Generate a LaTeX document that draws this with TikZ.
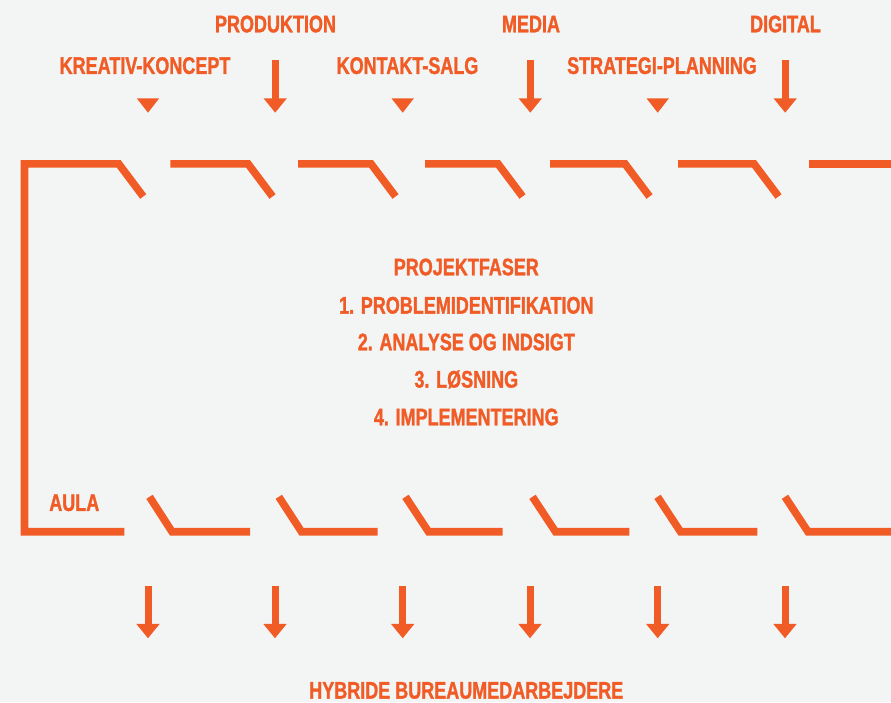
\documentclass[tikz,border=0pt]{standalone}
\usepackage{fontspec}
\setmainfont{Liberation Sans}[FakeStretch=0.75,BoldFeatures={FakeBold=1.2}]
\usepackage{xcolor}
\usetikzlibrary{arrows.meta}
\definecolor{bureauorange}{RGB}{241,91,38}
\definecolor{bggray}{RGB}{243,244,244}
\tikzset{
  label/.style={text=bureauorange,font=\fontsize{24}{24}\selectfont\bfseries,
    inner sep=0pt,text height=17.2pt,text depth=0pt},
  wall/.style={draw=bureauorange,line width=7.6pt,line join=miter},
  flow/.style={draw=bureauorange,line width=7pt,-{Triangle[width=22.4pt,length=14.4pt]}}
}

\begin{document}
\begin{tikzpicture}[x=1pt,y=-1pt]
\fill[bggray] (0,0) rectangle (891,702);
\useasboundingbox (0,0) rectangle (891,702);
% departments above
\node[label] (kreativ) at (145,65.3){KREATIV-KONCEPT};
\node[label] (produktion) at (275.5,23.7){PRODUKTION};
\node[label] (kontakt) at (407.5,65.3){KONTAKT-SALG};
\node[label] (media) at (531,23.7){MEDIA};
\node[label] (strategi) at (662,65.3){STRATEGI-PLANNING};
\node[label] (digital) at (785.5,23.7){DIGITAL};
% arrows into the room
\coordinate (P1) at (275.2,60.3);
\coordinate (P2) at (275.2,112.7);
\coordinate (M1) at (530.3,60.3);
\coordinate (M2) at (530.3,112.7);
\coordinate (D1) at (785.2,60.3);
\coordinate (D2) at (785.2,112.7);
\draw[flow] (P1) -- (P2);
\draw[flow] (M1) -- (M2);
\draw[flow] (D1) -- (D2);
\fill[bureauorange] (136.8,98.3) -- (159.2,98.3) -- (148,112.7) -- cycle;
\fill[bureauorange] (391.5,98.3) -- (413.9,98.3) -- (402.7,112.7) -- cycle;
\fill[bureauorange] (646.5,98.3) -- (668.9,98.3) -- (657.7,112.7) -- cycle;
% room walls with doors
\draw[wall] (143.2,196.5) -- (118.7,163.8) -- (24.5,163.8) -- (24.5,531.7) -- (124.3,531.7);
\draw[wall] (170.3,163.8) -- (248,163.8) -- (272.5,196.5);
\draw[wall] (298,163.8) -- (371,163.8) -- (395.5,196.5);
\draw[wall] (425,163.8) -- (498,163.8) -- (522.5,196.5);
\draw[wall] (550,163.8) -- (625,163.8) -- (649.5,196.5);
\draw[wall] (678,163.8) -- (754,163.8) -- (778.5,196.5);
\draw[wall] (808.7,163.8) -- (895,163.8);
\draw[wall] (149.5,496.8) -- (172,531.7) -- (250,531.7);
\draw[wall] (278.8,496.8) -- (301.5,531.7) -- (377.7,531.7);
\draw[wall] (405.5,496.8) -- (428.5,531.7) -- (502.7,531.7);
\draw[wall] (532.5,496.8) -- (555.5,531.7) -- (629.3,531.7);
\draw[wall] (657.5,496.8) -- (680.5,531.7) -- (757.3,531.7);
\draw[wall] (785,496.8) -- (808,531.7) -- (895,531.7);
% texts inside
\node[label] (faser) at (466.3,266.7){PROJEKTFASER};
\node[label] (fase1) at (466.3,305){1. PROBLEMIDENTIFIKATION};
\node[label] (fase2) at (466.3,341.7){2. ANALYSE OG INDSIGT};
\node[label] (fase3) at (466.3,379){3. LØSNING};
\node[label] (fase4) at (466.3,416.7){4. IMPLEMENTERING};
\node[label] (aula) at (74.3,502.3){AULA};
% arrows out of the room
\coordinate (A1) at (148,586);
\coordinate (A2) at (148,638.3);
\coordinate (B1) at (275,586);
\coordinate (B2) at (275,638.3);
\coordinate (C1) at (402.7,586);
\coordinate (C2) at (402.7,638.3);
\coordinate (E1) at (530,586);
\coordinate (E2) at (530,638.3);
\coordinate (F1) at (657.7,586);
\coordinate (F2) at (657.7,638.3);
\coordinate (G1) at (785,586);
\coordinate (G2) at (785,638.3);
\draw[flow] (A1) -- (A2);
\draw[flow] (B1) -- (B2);
\draw[flow] (C1) -- (C2);
\draw[flow] (E1) -- (E2);
\draw[flow] (F1) -- (F2);
\draw[flow] (G1) -- (G2);
\node[label] (hybride) at (466.3,690){HYBRIDE BUREAUMEDARBEJDERE};
\end{tikzpicture}
\end{document}
